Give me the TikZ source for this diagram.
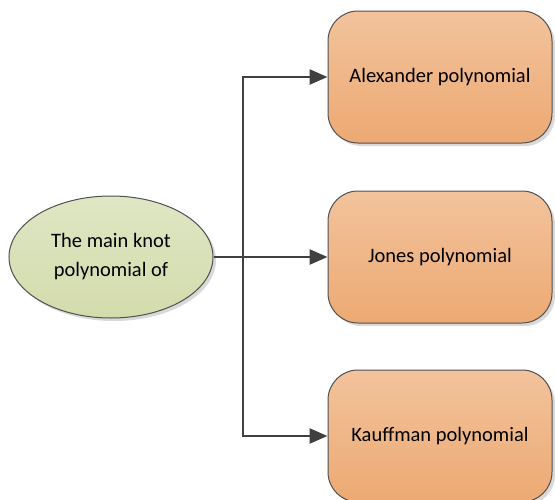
\documentclass[tikz,border=0pt]{standalone}
\usepackage{fontspec}
\setmainfont{Carlito}
\usetikzlibrary{shapes.geometric,arrows.meta,shadows}
\definecolor{boxtop}{HTML}{F2C39C}
\definecolor{boxbot}{HTML}{EDA973}
\definecolor{elltop}{HTML}{DFE6C4}
\definecolor{ellbot}{HTML}{D3DCAC}
\definecolor{edge}{HTML}{505050}
\definecolor{line}{HTML}{404040}
\tikzset{
  polybox/.style={draw=edge, line width=1pt, rounded corners=30pt, minimum width=224pt, minimum height=132pt,
    top color=boxtop, bottom color=boxbot, font=\fontsize{20.5}{24}\selectfont, align=center,
    drop shadow={shadow xshift=3pt, shadow yshift=-3pt, fill=black!25, opacity=0.6}},
  mainell/.style={draw=edge, line width=1pt, ellipse, minimum width=204pt, minimum height=122pt,
    top color=elltop, bottom color=ellbot, font=\fontsize{20.5}{29}\selectfont, align=center, inner sep=0pt,
    drop shadow={shadow xshift=3pt, shadow yshift=-3pt, fill=black!25, opacity=0.6}},
  conn/.style={draw=line, line width=2.5pt},
  arr/.style={conn, -{Triangle[length=18pt,width=15pt]}}
}
\begin{document}
\begin{tikzpicture}[x=1pt,y=-1pt]
\useasboundingbox (0,0) rectangle (555,499);
\node[mainell] (main) at (111,257) {The main knot\\polynomial of};
\node[polybox] (alex) at (440,77) {Alexander polynomial};
\node[polybox] (jones) at (440,257) {Jones polynomial};
\node[polybox] (kauf) at (440,436) {Kauffman polynomial};
\coordinate (j) at (243,257);
\draw[conn] (main.east) -- (j);
\draw[arr] (j) |- (alex.west);
\draw[arr] (j) -- (jones.west);
\draw[arr] (j) |- (kauf.west);
\end{tikzpicture}
\end{document}
